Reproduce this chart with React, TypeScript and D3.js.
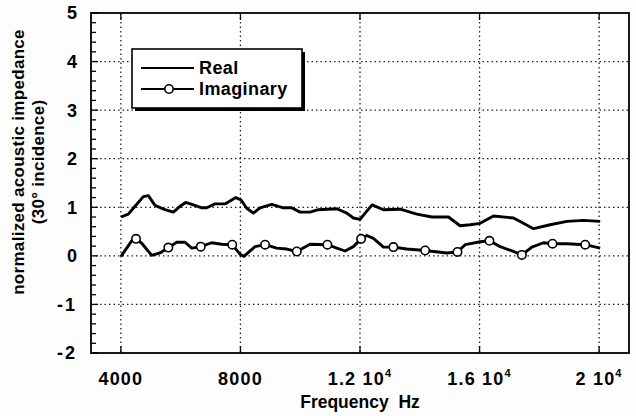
import React from "react";
import * as d3 from "d3";

const xTicks = [4000, 8000, 12000, 16000, 20000];
const xTickMain = ["4000", "8000", "1.2 10", "1.6 10", "2 10"];
const xTickSup = ["", "", "4", "4", "4"];
const yTicks = [-2, -1, 0, 1, 2, 3, 4, 5];
const yTickLabels = ["-2", "-1", "0", "1", "2", "3", "4", "5"];

const realFreq = [4004, 4248, 4473, 4751, 4918, 5142, 5477, 5755, 5979, 6170, 6424, 6705, 6872, 7150, 7485, 7843, 8021, 8211, 8432, 8656, 9048, 9436, 9715, 9995, 10330, 10608, 11223, 11558, 11779, 12003, 12228, 12405, 12783, 13342, 13901, 14403, 14959, 15350, 15685, 16020, 16465, 17135, 17469, 17804, 18363, 18922, 19478, 20036];
const realVal = [0.80, 0.86, 1.02, 1.22, 1.24, 1.04, 0.95, 0.90, 1.02, 1.10, 1.05, 0.99, 0.99, 1.07, 1.07, 1.20, 1.15, 0.98, 0.88, 0.99, 1.06, 0.99, 0.99, 0.90, 0.90, 0.95, 0.97, 0.88, 0.78, 0.75, 0.92, 1.05, 0.95, 0.96, 0.86, 0.80, 0.80, 0.62, 0.64, 0.67, 0.82, 0.78, 0.67, 0.56, 0.64, 0.71, 0.73, 0.71];

const imagFreq = [4004, 4195, 4362, 4506, 4697, 5032, 5309, 5587, 5868, 6146, 6370, 6672, 7037, 7372, 7726, 7990, 8120, 8230, 8489, 8824, 9215, 9550, 9885, 10330, 10909, 11223, 11501, 11779, 12037, 12228, 12449, 12783, 13118, 13566, 14179, 14906, 15261, 15518, 16020, 16331, 16689, 17135, 17416, 17751, 18139, 18440, 18922, 19535, 20036];
const imagVal = [-0.01, 0.16, 0.31, 0.35, 0.26, 0.01, 0.06, 0.17, 0.28, 0.28, 0.16, 0.19, 0.27, 0.24, 0.23, 0.03, -0.01, 0.05, 0.19, 0.23, 0.16, 0.14, 0.09, 0.24, 0.23, 0.16, 0.10, 0.19, 0.35, 0.42, 0.36, 0.18, 0.18, 0.14, 0.11, 0.06, 0.08, 0.23, 0.29, 0.31, 0.19, 0.09, 0.02, 0.18, 0.27, 0.25, 0.25, 0.23, 0.16];

const markerFreq = [4506, 5587, 6672, 7726, 8824, 9885, 10909, 12037, 13118, 14179, 15261, 16331, 17416, 18440, 19535];
const markerVal = [0.35, 0.17, 0.19, 0.23, 0.23, 0.09, 0.23, 0.35, 0.18, 0.11, 0.08, 0.31, 0.02, 0.25, 0.23];

const seriesNames = ["Real", "Imaginary"];

const W = 636;
const H = 416;
const FONT = "'Liberation Sans', Arial, Helvetica, sans-serif";

export default function App() {
  const x = d3.scaleLinear().domain([3000, 21000]).range([91, 629]);
  const y = d3.scaleLinear().domain([-2, 5]).range([353, 13]);

  const line = d3
    .line<[number, number]>()
    .x((d) => x(d[0]))
    .y((d) => y(d[1]));

  const realPts = realFreq.map((f, i) => [f, realVal[i]] as [number, number]);
  const imagPts = imagFreq.map((f, i) => [f, imagVal[i]] as [number, number]);

  const minor = d3.range(-2, 5.001, 0.2).filter((v) => Math.abs(v - Math.round(v)) > 0.01);

  const [x0, x1] = x.range();
  const [yb, yt] = y.range();

  const lx = 132, ly = 49, lw = 170, lh = 59;

  return (
    <svg
      width={W}
      height={H}
      style={{ position: "absolute", left: 0, top: 0, background: "#ffffff" }}
      fontFamily={FONT}
    >
      <rect x={0} y={0} width={W} height={H} fill="#fdfdfd" />
      <rect x={x0} y={yt} width={x1 - x0} height={yb - yt} fill="#ffffff" />

      {xTicks.map((t) => (
        <line key={"gx" + t} x1={x(t)} x2={x(t)} y1={yt} y2={yb} stroke="#222" strokeWidth={1.3} strokeDasharray="1.5,3" />
      ))}
      {yTicks.filter((t) => t > -2 && t < 5).map((t) => (
        <line key={"gy" + t} x1={x0} x2={x1} y1={y(t)} y2={y(t)} stroke="#222" strokeWidth={1.3} strokeDasharray="1.5,3" />
      ))}

      {xTicks.map((t) => (
        <g key={"tx" + t}>
          <line x1={x(t)} x2={x(t)} y1={yb} y2={yb - 7} stroke="#000" strokeWidth={1.3} />
          <line x1={x(t)} x2={x(t)} y1={yt} y2={yt + 7} stroke="#000" strokeWidth={1.3} />
        </g>
      ))}
      {yTicks.map((t) => (
        <line key={"ty" + t} x1={x0} x2={x0 + 7} y1={y(t)} y2={y(t)} stroke="#000" strokeWidth={1.3} />
      ))}
      {minor.map((t, i) => (
        <line key={"tm" + i} x1={x0} x2={x0 + 5} y1={y(t)} y2={y(t)} stroke="#000" strokeWidth={1.3} />
      ))}

      <rect x={x0} y={yt} width={x1 - x0} height={yb - yt} fill="none" stroke="#000" strokeWidth={1.8} />

      <path d={line(realPts) || ""} fill="none" stroke="#000" strokeWidth={2.9} strokeLinejoin="round" />
      <path d={line(imagPts) || ""} fill="none" stroke="#000" strokeWidth={2.9} strokeLinejoin="round" />
      {markerFreq.map((f, i) => (
        <circle key={"m" + i} cx={x(f)} cy={y(markerVal[i])} r={4.2} fill="#fff" stroke="#000" strokeWidth={1.6} />
      ))}

      {yTicks.map((t, i) => (
        <text key={"yl" + t} x={77} y={y(t)} dy="0.36em" textAnchor="end" fontSize={18} fontWeight="bold" letterSpacing={t < 0 ? 2 : 0}>
          {yTickLabels[i]}
        </text>
      ))}

      {xTicks.map((t, i) => (
        <text key={"xl" + t} x={x(t)} y={385} textAnchor="middle" fontSize={18} fontWeight="bold" letterSpacing={1.2}>
          {xTickMain[i]}
          {xTickSup[i] ? (
            <tspan fontSize={11} dy={-8}>{xTickSup[i]}</tspan>
          ) : null}
        </text>
      ))}

      <text x={360} y={408} textAnchor="middle" fontSize={17.5} fontWeight="bold" xmlSpace="preserve">
        Frequency  Hz
      </text>
      <g transform="translate(24,162) rotate(-90)">
        <text x={0} y={0} textAnchor="middle" fontSize={17} fontWeight="bold" letterSpacing={0.3}>
          normalized acoustic impedance
        </text>
        <text x={0} y={20} textAnchor="middle" fontSize={17} fontWeight="bold" letterSpacing={0.3}>
          (30° incidence)
        </text>
      </g>

      <rect x={lx + 3} y={ly + 3} width={lw} height={lh} fill="#000" />
      <rect x={lx} y={ly} width={lw} height={lh} fill="#fff" stroke="#000" strokeWidth={1.6} />
      <line x1={141} x2={194} y1={68} y2={68} stroke="#000" strokeWidth={2} />
      <text x={199} y={74} fontSize={18} fontWeight="bold" letterSpacing={0.4}>{seriesNames[0]}</text>
      <line x1={141} x2={194} y1={89} y2={89} stroke="#000" strokeWidth={2} />
      <circle cx={169} cy={89} r={4.2} fill="#fff" stroke="#000" strokeWidth={1.6} />
      <text x={199} y={95} fontSize={18} fontWeight="bold" letterSpacing={0.4}>{seriesNames[1]}</text>
    </svg>
  );
}
